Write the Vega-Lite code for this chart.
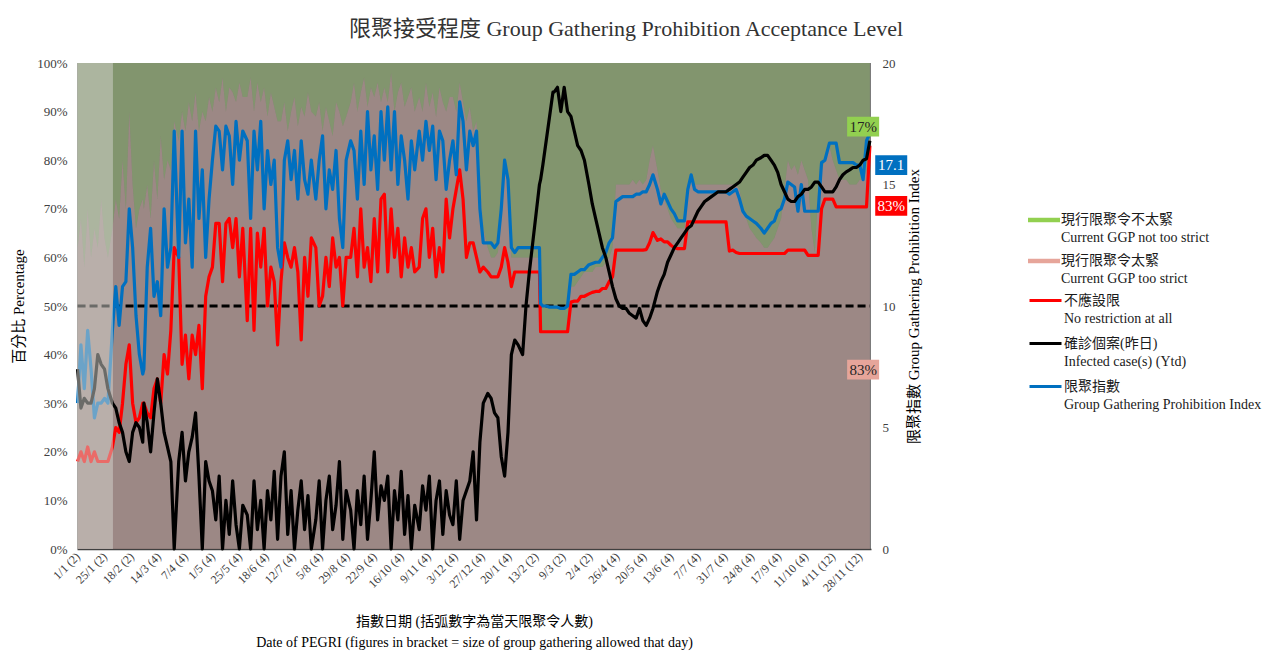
{
  "$schema": "https://vega.github.io/schema/vega-lite/v6.json",
  "width": 794,
  "height": 486,
  "autosize": {"type": "none"},
  "padding": {"left": 77, "top": 63, "right": 395, "bottom": 102},
  "background": "white",
  "config": {
    "view": {"stroke": null, "fill": "#7B7B7B"},
    "font": "'Liberation Serif', 'Noto Sans CJK TC', serif",
    "style": {"guide-label": {"lineHeight": 18}},
    "axis": {"labelOverlap": false},
    "axisX": {"labelOverlap": false, "labelFlush": false, "labelBound": false}
  },
  "title": {
    "text": "限聚接受程度 Group Gathering Prohibition Acceptance Level",
    "fontSize": 22,
    "fontWeight": "normal",
    "font": "'Liberation Serif', 'Noto Sans CJK TC', serif",
    "color": "#333333",
    "anchor": "middle",
    "frame": "group",
    "dx": 152,
    "offset": 16
  },
  "datasets": {
    "main": [
      {"d":"2021-01-01","p":62,"r":18,"k":37,"b":6.0},
      {"d":"2021-01-04","p":68,"r":20,"k":29,"b":8.4},
      {"d":"2021-01-07","p":58,"r":18,"k":31,"b":6.6},
      {"d":"2021-01-10","p":70,"r":21,"k":30,"b":9.0},
      {"d":"2021-01-13","p":60,"r":18,"k":30,"b":7.4},
      {"d":"2021-01-16","p":66,"r":20,"k":33,"b":5.4},
      {"d":"2021-01-19","p":62,"r":18,"k":40,"b":6.0},
      {"d":"2021-01-22","p":72,"r":18,"k":38,"b":6.0},
      {"d":"2021-01-25","p":64,"r":18,"k":37,"b":6.2},
      {"d":"2021-01-28","p":60,"r":18,"k":33,"b":6.0},
      {"d":"2021-02-01","p":66,"r":21,"k":30,"b":9.0},
      {"d":"2021-02-04","p":72,"r":25,"k":29,"b":10.8},
      {"d":"2021-02-07","p":68,"r":24,"k":26,"b":9.2},
      {"d":"2021-02-10","p":80,"r":30,"k":24,"b":10.8},
      {"d":"2021-02-13","p":70,"r":38,"k":20,"b":11.0},
      {"d":"2021-02-16","p":90,"r":42,"k":18,"b":14.0},
      {"d":"2021-02-19","p":75,"r":30,"k":24,"b":12.4},
      {"d":"2021-02-22","p":66,"r":26,"k":26,"b":9.6},
      {"d":"2021-02-25","p":70,"r":27,"k":25,"b":8.0},
      {"d":"2021-02-28","p":72,"r":30,"k":22,"b":7.2},
      {"d":"2021-03-01","p":70,"r":30,"k":30,"b":7.4},
      {"d":"2021-03-04","p":75,"r":28,"k":26,"b":11.6},
      {"d":"2021-03-07","p":68,"r":27,"k":20,"b":13.2},
      {"d":"2021-03-10","p":80,"r":33,"k":28,"b":10.4},
      {"d":"2021-03-13","p":72,"r":35,"k":35,"b":11.0},
      {"d":"2021-03-16","p":85,"r":30,"k":30,"b":9.6},
      {"d":"2021-03-19","p":76,"r":40,"k":24,"b":14.0},
      {"d":"2021-03-22","p":80,"r":36,"k":21,"b":11.6},
      {"d":"2021-03-25","p":78,"r":45,"k":18,"b":12.4},
      {"d":"2021-03-28","p":88,"r":62,"k":0,"b":17.2},
      {"d":"2021-04-01","p":84,"r":60,"k":18,"b":12.0},
      {"d":"2021-04-04","p":90,"r":38,"k":24,"b":17.2},
      {"d":"2021-04-07","p":86,"r":44,"k":14,"b":12.6},
      {"d":"2021-04-10","p":92,"r":35,"k":20,"b":14.4},
      {"d":"2021-04-13","p":88,"r":44,"k":23,"b":11.6},
      {"d":"2021-04-16","p":94,"r":40,"k":28,"b":17.2},
      {"d":"2021-04-19","p":86,"r":46,"k":15,"b":13.6},
      {"d":"2021-04-22","p":90,"r":33,"k":0,"b":15.6},
      {"d":"2021-04-25","p":88,"r":52,"k":18,"b":12.0},
      {"d":"2021-04-28","p":93,"r":56,"k":14,"b":14.4},
      {"d":"2021-05-01","p":90,"r":58,"k":12,"b":16.0},
      {"d":"2021-05-04","p":95,"r":67,"k":6,"b":17.4},
      {"d":"2021-05-07","p":92,"r":67,"k":15,"b":17.2},
      {"d":"2021-05-10","p":97,"r":55,"k":0,"b":15.6},
      {"d":"2021-05-13","p":90,"r":67,"k":10,"b":17.4},
      {"d":"2021-05-16","p":95,"r":68,"k":3,"b":17.0},
      {"d":"2021-05-19","p":94,"r":62,"k":14,"b":15.0},
      {"d":"2021-05-22","p":92,"r":68,"k":5,"b":17.6},
      {"d":"2021-05-25","p":96,"r":56,"k":0,"b":16.0},
      {"d":"2021-05-28","p":93,"r":66,"k":9,"b":17.2},
      {"d":"2021-06-01","p":93,"r":47,"k":7,"b":16.8},
      {"d":"2021-06-04","p":97,"r":66,"k":0,"b":13.6},
      {"d":"2021-06-07","p":90,"r":45,"k":14,"b":17.2},
      {"d":"2021-06-10","p":96,"r":65,"k":4,"b":15.6},
      {"d":"2021-06-13","p":92,"r":58,"k":10,"b":17.6},
      {"d":"2021-06-16","p":95,"r":66,"k":0,"b":14.0},
      {"d":"2021-06-19","p":89,"r":50,"k":12,"b":16.4},
      {"d":"2021-06-22","p":94,"r":58,"k":6,"b":15.0},
      {"d":"2021-06-25","p":91,"r":55,"k":16,"b":16.0},
      {"d":"2021-06-28","p":88,"r":42,"k":2,"b":12.4},
      {"d":"2021-07-01","p":88,"r":55,"k":15,"b":11.6},
      {"d":"2021-07-04","p":92,"r":63,"k":20,"b":16.0},
      {"d":"2021-07-07","p":86,"r":60,"k":3,"b":16.8},
      {"d":"2021-07-10","p":90,"r":58,"k":12,"b":15.2},
      {"d":"2021-07-13","p":93,"r":62,"k":0,"b":16.4},
      {"d":"2021-07-16","p":87,"r":57,"k":8,"b":14.4},
      {"d":"2021-07-19","p":91,"r":43,"k":14,"b":16.8},
      {"d":"2021-07-22","p":89,"r":60,"k":4,"b":15.2},
      {"d":"2021-07-25","p":94,"r":52,"k":11,"b":14.6},
      {"d":"2021-07-28","p":90,"r":64,"k":0,"b":16.0},
      {"d":"2021-08-01","p":89,"r":62,"k":6,"b":14.4},
      {"d":"2021-08-04","p":92,"r":50,"k":14,"b":16.0},
      {"d":"2021-08-07","p":86,"r":52,"k":0,"b":17.0},
      {"d":"2021-08-10","p":91,"r":60,"k":10,"b":14.0},
      {"d":"2021-08-13","p":88,"r":54,"k":15,"b":15.6},
      {"d":"2021-08-16","p":85,"r":64,"k":4,"b":14.8},
      {"d":"2021-08-19","p":92,"r":58,"k":9,"b":16.4},
      {"d":"2021-08-22","p":90,"r":60,"k":18,"b":13.6},
      {"d":"2021-08-25","p":87,"r":50,"k":2,"b":12.4},
      {"d":"2021-08-28","p":89,"r":60,"k":12,"b":16.0},
      {"d":"2021-09-01","p":92,"r":60,"k":8,"b":16.8},
      {"d":"2021-09-04","p":96,"r":66,"k":0,"b":16.4},
      {"d":"2021-09-07","p":90,"r":56,"k":12,"b":14.4},
      {"d":"2021-09-10","p":94,"r":70,"k":5,"b":17.2},
      {"d":"2021-09-13","p":97,"r":58,"k":15,"b":15.0},
      {"d":"2021-09-16","p":91,"r":62,"k":2,"b":18.0},
      {"d":"2021-09-19","p":95,"r":55,"k":10,"b":15.6},
      {"d":"2021-09-22","p":93,"r":68,"k":20,"b":17.0},
      {"d":"2021-09-25","p":96,"r":57,"k":6,"b":14.8},
      {"d":"2021-09-28","p":92,"r":72,"k":13,"b":18.0},
      {"d":"2021-10-01","p":95,"r":73,"k":10,"b":16.0},
      {"d":"2021-10-04","p":92,"r":57,"k":15,"b":18.2},
      {"d":"2021-10-07","p":98,"r":70,"k":0,"b":15.6},
      {"d":"2021-10-10","p":90,"r":60,"k":12,"b":18.0},
      {"d":"2021-10-13","p":94,"r":66,"k":6,"b":15.0},
      {"d":"2021-10-16","p":96,"r":56,"k":16,"b":17.0},
      {"d":"2021-10-19","p":91,"r":64,"k":3,"b":16.0},
      {"d":"2021-10-22","p":93,"r":58,"k":11,"b":14.4},
      {"d":"2021-10-25","p":95,"r":62,"k":0,"b":16.8},
      {"d":"2021-10-28","p":90,"r":57,"k":9,"b":15.6},
      {"d":"2021-11-01","p":93,"r":58,"k":4,"b":17.2},
      {"d":"2021-11-04","p":90,"r":68,"k":13,"b":16.0},
      {"d":"2021-11-07","p":96,"r":70,"k":8,"b":17.6},
      {"d":"2021-11-10","p":91,"r":60,"k":15,"b":16.4},
      {"d":"2021-11-13","p":94,"r":66,"k":0,"b":17.4},
      {"d":"2021-11-16","p":89,"r":56,"k":10,"b":15.2},
      {"d":"2021-11-19","p":95,"r":62,"k":14,"b":17.2},
      {"d":"2021-11-22","p":92,"r":57,"k":3,"b":16.8},
      {"d":"2021-11-25","p":90,"r":72,"k":12,"b":14.8},
      {"d":"2021-11-28","p":93,"r":64,"k":7,"b":16.0},
      {"d":"2021-12-01","p":93,"r":70,"k":5,"b":16.8},
      {"d":"2021-12-04","p":90,"r":74,"k":14,"b":15.4},
      {"d":"2021-12-07","p":96,"r":78,"k":2,"b":18.4},
      {"d":"2021-12-10","p":92,"r":72,"k":10,"b":17.6},
      {"d":"2021-12-13","p":88,"r":60,"k":12,"b":15.6},
      {"d":"2021-12-16","p":91,"r":63,"k":14,"b":17.2},
      {"d":"2021-12-19","p":86,"r":63,"k":20,"b":16.6},
      {"d":"2021-12-22","p":88,"r":60,"k":6,"b":17.2},
      {"d":"2021-12-25","p":75,"r":57,"k":22,"b":14.0},
      {"d":"2021-12-28","p":66,"r":58,"k":30,"b":12.6},
      {"d":"2022-01-01","p":62,"r":57,"k":32,"b":12.6},
      {"d":"2022-01-04","p":60,"r":56,"k":31,"b":12.6},
      {"d":"2022-01-07","p":60,"r":56,"k":28,"b":12.4},
      {"d":"2022-01-10","p":61,"r":56,"k":27,"b":12.6},
      {"d":"2022-01-13","p":70,"r":58,"k":19,"b":14.0},
      {"d":"2022-01-16","p":80,"r":62,"k":15,"b":16.0},
      {"d":"2022-01-19","p":75,"r":59,"k":24,"b":15.2},
      {"d":"2022-01-22","p":60,"r":54,"k":40,"b":12.4},
      {"d":"2022-01-25","p":60,"r":57,"k":43,"b":12.2},
      {"d":"2022-01-28","p":60,"r":57,"k":42,"b":12.4},
      {"d":"2022-02-01","p":60,"r":57,"k":40,"b":12.4},
      {"d":"2022-02-04","p":60,"r":57,"k":50,"b":12.4},
      {"d":"2022-02-07","p":60,"r":57,"k":57,"b":12.4},
      {"d":"2022-02-10","p":60,"r":57,"k":63,"b":12.4},
      {"d":"2022-02-13","p":60,"r":57,"k":69,"b":12.4},
      {"d":"2022-02-16","p":60,"r":57,"k":75,"b":12.4},
      {"d":"2022-02-17","p":45,"r":44.7,"k":76,"b":10.1},
      {"d":"2022-02-19","p":45,"r":44.7,"k":79,"b":10.0},
      {"d":"2022-02-22","p":45,"r":44.7,"k":84,"b":10.0},
      {"d":"2022-02-25","p":45,"r":44.7,"k":89,"b":9.95},
      {"d":"2022-02-28","p":45,"r":44.7,"k":94,"b":9.95},
      {"d":"2022-03-01","p":45,"r":44.7,"k":94,"b":9.95},
      {"d":"2022-03-04","p":45,"r":44.7,"k":95,"b":9.95},
      {"d":"2022-03-07","p":45,"r":44.7,"k":90,"b":9.9},
      {"d":"2022-03-10","p":45,"r":44.7,"k":95,"b":9.9},
      {"d":"2022-03-13","p":45,"r":44.7,"k":90,"b":10.0},
      {"d":"2022-03-16","p":54,"r":50.8,"k":89,"b":11.3},
      {"d":"2022-03-19","p":54,"r":51,"k":86,"b":11.3},
      {"d":"2022-03-22","p":55,"r":51,"k":83,"b":11.4},
      {"d":"2022-03-25","p":56,"r":52,"k":82,"b":11.5},
      {"d":"2022-03-28","p":57,"r":52,"k":80,"b":11.5},
      {"d":"2022-04-01","p":57,"r":52.5,"k":75,"b":11.7},
      {"d":"2022-04-04","p":57,"r":52.8,"k":71,"b":11.75},
      {"d":"2022-04-07","p":58,"r":53,"k":68,"b":11.8},
      {"d":"2022-04-10","p":58,"r":53,"k":65,"b":11.8},
      {"d":"2022-04-13","p":58,"r":53.6,"k":62,"b":12.0},
      {"d":"2022-04-16","p":59,"r":53.6,"k":60,"b":12.2},
      {"d":"2022-04-19","p":60,"r":55,"k":57,"b":12.6},
      {"d":"2022-04-22","p":62,"r":56,"k":54,"b":12.8},
      {"d":"2022-04-25","p":75,"r":61.5,"k":51.5,"b":14.3},
      {"d":"2022-04-28","p":75,"r":61.5,"k":50,"b":14.4},
      {"d":"2022-05-01","p":75,"r":61.5,"k":49.5,"b":14.5},
      {"d":"2022-05-04","p":75,"r":61.5,"k":49.5,"b":14.5},
      {"d":"2022-05-07","p":75,"r":61.5,"k":48.5,"b":14.5},
      {"d":"2022-05-10","p":76,"r":61.5,"k":48,"b":14.5},
      {"d":"2022-05-13","p":75,"r":61.5,"k":47.5,"b":14.6},
      {"d":"2022-05-16","p":76,"r":61.5,"k":49.5,"b":14.6},
      {"d":"2022-05-19","p":75,"r":61.5,"k":47,"b":14.7},
      {"d":"2022-05-22","p":76,"r":61.6,"k":46,"b":14.7},
      {"d":"2022-05-25","p":80,"r":63,"k":47.5,"b":15.0},
      {"d":"2022-05-28","p":83,"r":65.1,"k":49.5,"b":15.4},
      {"d":"2022-06-01","p":78,"r":63.5,"k":53,"b":14.8},
      {"d":"2022-06-04","p":74,"r":63.8,"k":55,"b":14.2},
      {"d":"2022-06-07","p":72,"r":63.2,"k":56.5,"b":14.6},
      {"d":"2022-06-10","p":70,"r":63.2,"k":59,"b":14.3},
      {"d":"2022-06-13","p":68,"r":62.5,"k":60.5,"b":14.0},
      {"d":"2022-06-16","p":67,"r":62,"k":62,"b":13.8},
      {"d":"2022-06-19","p":66,"r":61.8,"k":63,"b":13.5},
      {"d":"2022-06-22","p":66,"r":61.8,"k":64,"b":13.5},
      {"d":"2022-06-25","p":66,"r":61.8,"k":65,"b":13.5},
      {"d":"2022-06-28","p":75,"r":67.3,"k":66,"b":14.8},
      {"d":"2022-07-01","p":77,"r":67.3,"k":66.5,"b":15.4},
      {"d":"2022-07-04","p":75,"r":67.3,"k":68,"b":14.8},
      {"d":"2022-07-07","p":75,"r":67.3,"k":69.5,"b":14.7},
      {"d":"2022-07-10","p":75,"r":67.3,"k":70.5,"b":14.7},
      {"d":"2022-07-13","p":75,"r":67.3,"k":71.5,"b":14.7},
      {"d":"2022-07-16","p":75,"r":67.3,"k":72,"b":14.7},
      {"d":"2022-07-19","p":75,"r":67.3,"k":72.5,"b":14.7},
      {"d":"2022-07-22","p":75,"r":67.3,"k":73,"b":14.7},
      {"d":"2022-07-25","p":75,"r":67.3,"k":73.5,"b":14.7},
      {"d":"2022-07-28","p":75,"r":67.3,"k":73.5,"b":14.7},
      {"d":"2022-08-01","p":75,"r":67.3,"k":73.5,"b":14.7},
      {"d":"2022-08-04","p":75,"r":61.3,"k":74,"b":14.6},
      {"d":"2022-08-07","p":75,"r":61.5,"k":74.5,"b":14.7},
      {"d":"2022-08-10","p":75,"r":61,"k":75,"b":14.8},
      {"d":"2022-08-13","p":74,"r":60.8,"k":75.5,"b":14.4},
      {"d":"2022-08-16","p":70,"r":60.8,"k":76.5,"b":13.9},
      {"d":"2022-08-19","p":68,"r":60.8,"k":77.5,"b":13.7},
      {"d":"2022-08-22","p":66,"r":60.8,"k":78.5,"b":13.6},
      {"d":"2022-08-25","p":65,"r":60.8,"k":79,"b":13.5},
      {"d":"2022-08-28","p":64,"r":60.8,"k":80,"b":13.4},
      {"d":"2022-09-01","p":63,"r":60.8,"k":80.5,"b":13.2},
      {"d":"2022-09-04","p":62,"r":60.8,"k":81,"b":13.0},
      {"d":"2022-09-07","p":62,"r":60.8,"k":81,"b":13.2},
      {"d":"2022-09-10","p":63,"r":60.8,"k":80,"b":13.4},
      {"d":"2022-09-13","p":64,"r":60.8,"k":79,"b":13.5},
      {"d":"2022-09-16","p":66,"r":60.8,"k":77.5,"b":13.9},
      {"d":"2022-09-19","p":68,"r":60.8,"k":75,"b":14.0},
      {"d":"2022-09-22","p":74,"r":60.8,"k":73.5,"b":14.4},
      {"d":"2022-09-25","p":80,"r":61.5,"k":72,"b":15.1},
      {"d":"2022-09-28","p":78,"r":61.5,"k":71.5,"b":15.0},
      {"d":"2022-10-01","p":79,"r":61.5,"k":71.5,"b":14.9},
      {"d":"2022-10-04","p":77,"r":61.5,"k":72.5,"b":13.9},
      {"d":"2022-10-07","p":80,"r":61.5,"k":73,"b":15.0},
      {"d":"2022-10-10","p":78,"r":61.5,"k":74,"b":13.9},
      {"d":"2022-10-13","p":76,"r":60.4,"k":74,"b":13.9},
      {"d":"2022-10-16","p":66,"r":60.4,"k":74.5,"b":13.9},
      {"d":"2022-10-19","p":61,"r":60.4,"k":75.5,"b":13.9},
      {"d":"2022-10-22","p":74,"r":60.4,"k":75.5,"b":13.9},
      {"d":"2022-10-25","p":78,"r":70,"k":74.5,"b":15.9},
      {"d":"2022-10-28","p":80,"r":72,"k":73.5,"b":16.0},
      {"d":"2022-11-01","p":83,"r":72,"k":73.5,"b":16.7},
      {"d":"2022-11-04","p":80,"r":72,"k":73.5,"b":16.7},
      {"d":"2022-11-07","p":78,"r":70.4,"k":74.5,"b":16.7},
      {"d":"2022-11-10","p":76,"r":70.4,"k":76,"b":15.9},
      {"d":"2022-11-13","p":76,"r":70.4,"k":77,"b":15.9},
      {"d":"2022-11-16","p":76,"r":70.4,"k":77.6,"b":15.9},
      {"d":"2022-11-19","p":75,"r":70.4,"k":78,"b":15.9},
      {"d":"2022-11-22","p":75,"r":70.4,"k":78.5,"b":15.9},
      {"d":"2022-11-25","p":75,"r":70.4,"k":78.5,"b":15.8},
      {"d":"2022-11-28","p":76,"r":70.4,"k":79,"b":15.8},
      {"d":"2022-12-01","p":76,"r":70.4,"k":80,"b":15.2},
      {"d":"2022-12-04","p":78,"r":70.4,"k":80.3,"b":16.8},
      {"d":"2022-12-07","p":83,"r":83,"k":84,"b":17.1}
    ]
  },
  "encoding": {
    "x": {
      "field": "d", "type": "temporal",
      "scale": {"type": "utc", "domain": [{"year": 2020, "month": 12, "date": 31, "hours": 12, "utc": true}, {"year": 2022, "month": 12, "date": 8, "utc": true}]},
      "axis": {
        "values": [
          {"year": 2021, "month": 1, "date": 1, "utc": true},
          {"year": 2021, "month": 1, "date": 25, "utc": true},
          {"year": 2021, "month": 2, "date": 18, "utc": true},
          {"year": 2021, "month": 3, "date": 14, "utc": true},
          {"year": 2021, "month": 4, "date": 7, "utc": true},
          {"year": 2021, "month": 5, "date": 1, "utc": true},
          {"year": 2021, "month": 5, "date": 25, "utc": true},
          {"year": 2021, "month": 6, "date": 18, "utc": true},
          {"year": 2021, "month": 7, "date": 12, "utc": true},
          {"year": 2021, "month": 8, "date": 5, "utc": true},
          {"year": 2021, "month": 8, "date": 29, "utc": true},
          {"year": 2021, "month": 9, "date": 22, "utc": true},
          {"year": 2021, "month": 10, "date": 16, "utc": true},
          {"year": 2021, "month": 11, "date": 9, "utc": true},
          {"year": 2021, "month": 12, "date": 3, "utc": true},
          {"year": 2021, "month": 12, "date": 27, "utc": true},
          {"year": 2022, "month": 1, "date": 20, "utc": true},
          {"year": 2022, "month": 2, "date": 13, "utc": true},
          {"year": 2022, "month": 3, "date": 9, "utc": true},
          {"year": 2022, "month": 4, "date": 2, "utc": true},
          {"year": 2022, "month": 4, "date": 26, "utc": true},
          {"year": 2022, "month": 5, "date": 20, "utc": true},
          {"year": 2022, "month": 6, "date": 13, "utc": true},
          {"year": 2022, "month": 7, "date": 7, "utc": true},
          {"year": 2022, "month": 7, "date": 31, "utc": true},
          {"year": 2022, "month": 8, "date": 24, "utc": true},
          {"year": 2022, "month": 9, "date": 17, "utc": true},
          {"year": 2022, "month": 10, "date": 11, "utc": true},
          {"year": 2022, "month": 11, "date": 4, "utc": true},
          {"year": 2022, "month": 11, "date": 28, "utc": true}
        ],
        "labelExpr": "utcFormat(datum.value, '%-d/%-m') + ' (' + (datum.value < utc(2021,2,1) ? 2 : datum.value < utc(2022,1,1) ? 4 : datum.value < utc(2022,3,20) ? 2 : datum.value < utc(2022,10,1) ? 4 : 12) + ')'",
        "labelAngle": -45,
        "labelAlign": "right",
        "labelBaseline": "middle",
        "labelFontSize": 12,
        "labelColor": "#404040",
        "labelPadding": 5,
        "labelOverlap": false,
        "labelSeparation": 0,
        "labelFlush": false,
        "labelBound": false,
        "ticks": false,
        "grid": false,
        "domainColor": "#404040",
        "domainWidth": 1.5,
        "title": ["指數日期 (括弧數字為當天限聚令人數)", "Date of PEGRI  (figures in bracket = size of group gathering allowed that day)"],
        "titleFontSize": 14,
        "titleFontWeight": "normal",
        "titleColor": "#000000",
        "titleLineHeight": 21,
        "titlePadding": 21
      }
    }
  },
  "layer": [
    {
      "data": {"name": "main"},
      "layer": [
        {
          "mark": {"type": "area", "fillOpacity": 0.31},
          "encoding": {
            "y": {
              "field": "p", "type": "quantitative", "stack": null,
              "scale": {"domain": [0, 100], "nice": false},
              "axis": {
                "values": [0, 10, 20, 30, 40, 50, 60, 70, 80, 90, 100],
                "labelExpr": "datum.value + '%'",
                "ticks": false, "domain": false, "grid": false,
                "labelFontSize": 13, "labelColor": "#404040", "labelPadding": 10,
                "title": "百分比 Percentage",
                "titleFontSize": 15, "titleFontWeight": "normal", "titleColor": "#000000", "titlePadding": 10
              }
            },
            "fill": {
              "datum": "現行限聚令太緊|Current GGP too strict",
              "scale": {"domain": ["現行限聚令不太緊|Current GGP not too strict", "現行限聚令太緊|Current GGP too strict"], "range": ["#92D050", "#E6A59A"]},
              "legend": {
                "orient": "none", "legendX": 951, "legendY": 141, "title": null,
                "symbolType": "M-1,-0.14H1V0.14H-1Z", "symbolSize": 1024, "symbolOpacity": 1, "symbolFillOpacity": 1, "symbolStrokeWidth": 0,
                "labelExpr": "split(datum.label, '|')",
                "labelFontSize": 14, "labelColor": "#1a1a1a", "labelLimit": 500, "labelOffset": 1,
                "labelBaseline": "middle", "rowPadding": 0
              }
            }
          }
        },
        {
          "mark": {"type": "area", "fillOpacity": 0.31},
          "encoding": {
            "y": {"field": "p", "type": "quantitative", "stack": null},
            "y2": {"datum": 100},
            "fill": {"datum": "現行限聚令不太緊|Current GGP not too strict"}
          }
        },
        {
          "mark": {"type": "line", "strokeDash": [8, 4], "strokeWidth": 3, "color": "#000000"},
          "encoding": {"y": {"datum": 50}}
        },
        {
          "mark": {"type": "line", "strokeWidth": 3.2, "strokeJoin": "round"},
          "encoding": {
            "y": {"field": "r", "type": "quantitative"},
            "stroke": {
              "datum": "不應設限|No restriction at all",
              "scale": {"domain": ["不應設限|No restriction at all", "確診個案(昨日)|Infected case(s) (Ytd)", "限聚指數|Group Gathering Prohibition Index"], "range": ["#FF0000", "#000000", "#0070C0"]},
              "legend": {
                "orient": "none", "legendX": 951, "legendY": 220, "title": null,
                "symbolType": "stroke", "symbolSize": 1024, "symbolStrokeWidth": 3, "symbolOpacity": 1,
                "labelExpr": "split(datum.label, '|')",
                "labelFontSize": 14, "labelColor": "#1a1a1a", "labelLimit": 500, "labelOffset": 1,
                "labelBaseline": "middle", "rowPadding": 0
              }
            }
          }
        }
      ]
    },
    {
      "data": {"name": "main"},
      "mark": {"type": "line", "strokeWidth": 3.2, "strokeJoin": "round"},
      "encoding": {
        "y": {
          "field": "b", "type": "quantitative",
          "scale": {"domain": [0, 20], "nice": false},
          "axis": {
            "orient": "right",
            "values": [0, 5, 10, 15, 20],
            "ticks": false, "domain": false, "grid": false,
            "labelFontSize": 13, "labelColor": "#404040", "labelPadding": 11,
            "title": "限聚指數 Group Gathering Prohibition Index",
            "titleAngle": 270, "titleBaseline": "top",
            "titleFontSize": 15, "titleFontWeight": "normal", "titleColor": "#000000", "titlePadding": 11
          }
        },
        "stroke": {"datum": "限聚指數|Group Gathering Prohibition Index"}
      }
    },
    {
      "data": {"name": "main"},
      "mark": {"type": "line", "strokeWidth": 3.2, "strokeJoin": "round"},
      "encoding": {
        "y": {"field": "k", "type": "quantitative", "scale": {"domain": [0, 100], "nice": false}, "axis": null},
        "stroke": {"datum": "確診個案(昨日)|Infected case(s) (Ytd)"}
      }
    },
    {
      "data": {"values": [{"d": "2020-12-31T12:00:00Z", "e": "2021-02-01T12:00:00Z"}]},
      "mark": {"type": "rect", "color": "#D6D5D0", "opacity": 0.5},
      "encoding": {
        "x2": {"field": "e"}
      }
    },
    {
      "data": {"values": [
        {"t": "17%", "d": "2022-12-01", "v": 86.9, "s": "g"},
        {"t": "17.1", "d": "2022-12-26", "v": 79.0, "s": "b"},
        {"t": "83%", "d": "2022-12-26", "v": 70.6, "s": "r"},
        {"t": "83%", "d": "2022-12-01", "v": 36.9, "s": "p"}
      ]},
      "layer": [
        {
          "mark": {"type": "point", "filled": true, "opacity": 1, "shape": "M-1,-0.62H1V0.62H-1Z", "size": 1024, "strokeWidth": 0},
          "encoding": {
            "y": {"field": "v", "type": "quantitative", "scale": {"domain": [0, 100], "nice": false}, "axis": null},
            "color": {"field": "s", "type": "nominal", "scale": {"domain": ["g", "b", "r", "p"], "range": ["#92D050", "#0070C0", "#FF0000", "#E6A59A"]}, "legend": null}
          }
        },
        {
          "mark": {"type": "text", "fontSize": 15},
          "encoding": {
            "y": {"field": "v", "type": "quantitative"},
            "text": {"field": "t"},
            "color": {"condition": {"test": "datum.s === 'b' || datum.s === 'r'", "value": "#FFFFFF"}, "value": "#262626"}
          }
        }
      ]
    }
  ],
  "resolve": {"scale": {"y": "independent"}}
}
